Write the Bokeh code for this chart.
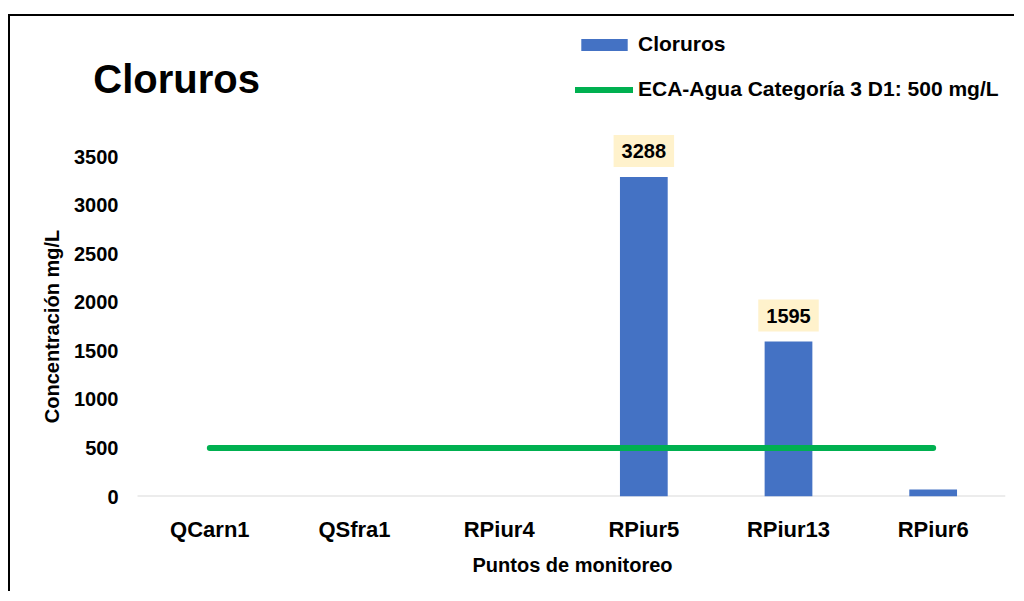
import math
from bokeh.plotting import figure
from bokeh.models import (Range1d, FixedTicker, Legend, LegendItem, Label, Title, ColumnDataSource)
from bokeh.core.properties import value
from bokeh.embed import file_html
from bokeh.resources import INLINE

# ---- data ----
categories = ["QCarn1", "QSfra1", "RPiur4", "RPiur5", "RPiur13", "RPiur6"]
cloruros = [0, 0, 0, 3288, 1595, 72]
eca_limit = [500, 500, 500, 500, 500, 500]
label_cats = ["RPiur5", "RPiur13"]
label_vals = [3288, 1595]
label_texts = ["3288", "1595"]
y_ticks = [0, 500, 1000, 1500, 2000, 2500, 3000, 3500]

FONT = "'Liberation Sans', Arial, sans-serif"

xpos = list(range(len(categories)))
lab_x = [categories.index(c) for c in label_cats]

# layout helpers (page pixels -> data), used only for annotation placement
X_PX0, X_PXSTEP = 209.5, 144.67
Y_PX0, Y_PXPER = 496.0, 340.0 / 3500.0
def px_x(px):
    return (px - X_PX0) / X_PXSTEP
def px_y(py):
    return (Y_PX0 - py) / Y_PXPER

p = figure(
    width=1006, height=577,
    x_range=Range1d(-0.5 - 125 / X_PXSTEP, len(categories) - 0.5),
    y_range=Range1d(0, px_y(18)),
    output_backend="svg", toolbar_location=None,
    min_border_left=2, min_border_right=11, min_border_top=2, min_border_bottom=97,
    styles={"border-left": "2px solid black", "border-top": "2px solid black",
            "margin-top": "14px", "margin-left": "8px"},
)
p.outline_line_color = None
p.xgrid.grid_line_color = None
p.ygrid.grid_line_color = None

# baseline (category band extent)
p.line(x=[-0.5, len(categories) - 0.5], y=[0, 0], line_color="#D9D9D9", line_width=2)

bars = p.vbar(x=xpos, top=cloruros, width=0.33, fill_color="#4472C4", line_color=None)
line = p.line(x=xpos, y=eca_limit, line_color="#00B050", line_width=6, line_cap="round")

src = ColumnDataSource(dict(x=lab_x, y=label_vals, t=label_texts))
p.text(x="x", y="y", text="t", source=src, text_align="center", text_baseline="middle",
       y_offset=-26, text_font=value(FONT), text_font_style="bold", text_font_size="20px",
       text_color="black", background_fill_color="#FFF2CC", padding=[8, 8, 9, 9])

# y axis: labels drawn to the right of the (far-left) axis position
p.yaxis.ticker = FixedTicker(ticks=y_ticks)
p.yaxis.axis_line_color = None
p.yaxis.major_tick_line_color = None
p.yaxis.minor_tick_line_color = None
p.yaxis.major_label_standoff = -112
p.yaxis.major_label_text_font = FONT
p.yaxis.major_label_text_font_style = "bold"
p.yaxis.major_label_text_font_size = "20px"
p.yaxis.major_label_text_color = "black"

# x axis with category names
p.xaxis.ticker = FixedTicker(ticks=xpos)
p.xaxis.major_label_overrides = {i: c for i, c in zip(xpos, categories)}
p.xaxis.axis_line_color = None
p.xaxis.major_tick_line_color = None
p.xaxis.minor_tick_line_color = None
p.xaxis.major_label_standoff = 14
p.xaxis.major_label_text_font = FONT
p.xaxis.major_label_text_font_style = "bold"
p.xaxis.major_label_text_font_size = "22px"
p.xaxis.major_label_text_color = "black"

p.add_layout(Title(text="Puntos de monitoreo", align="left", offset=460, standoff=14,
                   text_font=FONT, text_font_style="bold", text_font_size="20px",
                   text_color="black"), "below")

# y axis title
p.add_layout(Label(x=px_x(52), y=1750, text="Concentración mg/L",
                   angle=math.pi / 2, text_align="center", text_baseline="middle",
                   text_font=FONT, text_font_style="bold", text_font_size="20px", text_color="black"))

# chart title
p.add_layout(Label(x=px_x(93), y=px_y(78), text="Cloruros",
                   text_align="left", text_baseline="middle",
                   text_font=FONT, text_font_style="bold", text_font_size="40px", text_color="black"))

legend = Legend(items=[LegendItem(label="Cloruros", renderers=[bars]),
                       LegendItem(label="ECA-Agua Categoría 3 D1: 500 mg/L", renderers=[line])],
                location=(563, 395), orientation="vertical",
                background_fill_alpha=0, border_line_color=None,
                padding=0, margin=0, spacing=21,
                glyph_width=58, glyph_height=15, label_height=24, label_standoff=5,
                label_text_font=FONT, label_text_font_style="bold",
                label_text_font_size="21px", label_text_color="black")
p.add_layout(legend)

open("out.html", "w").write(file_html(p, INLINE))
